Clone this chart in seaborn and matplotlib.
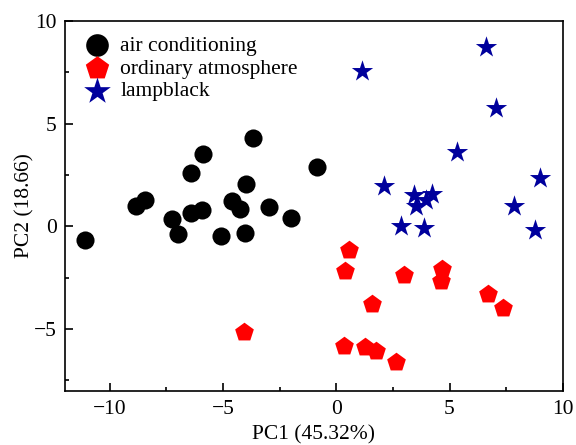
import pandas as pd
import matplotlib.pyplot as plt
import seaborn as sns
from matplotlib.ticker import MultipleLocator

# PCA scores
air_pc1 = [-11.08, -8.84, -8.44, -7.25, -7.0, -6.41, -6.41, -5.93, -5.87, -5.09,
           -4.59, -4.25, -4.05, -3.98, -3.69, -2.99, -2.0, -0.87]
air_pc2 = [-0.68, 1.0, 1.29, 0.38, -0.37, 2.60, 0.65, 0.81, 3.53, -0.45,
           1.24, 0.84, -0.32, 2.07, 4.31, 0.95, 0.40, 2.90]

ord_pc1 = [-4.09, 0.57, 0.38, 2.97, 4.69, 4.62, 6.68, 7.38, 1.57, 0.35, 1.28, 1.75, 2.63]
ord_pc2 = [-5.16, -1.16, -2.18, -2.39, -2.09, -2.66, -3.27, -3.95, -3.79, -5.81, -5.88, -6.05, -6.58]

lamp_pc1 = [1.12, 6.61, 7.07, 5.35, 9.0, 2.12, 3.44, 4.21, 3.96, 3.54, 7.86, 2.85, 3.88, 8.77]
lamp_pc2 = [7.58, 8.71, 5.78, 3.63, 2.37, 1.97, 1.53, 1.57, 1.29, 0.97, 0.97, 0.0, -0.08, -0.19]

groups = ["air conditioning", "ordinary atmosphere", "lampblack"]
colors = {"air conditioning": "black", "ordinary atmosphere": "#ff0000", "lampblack": "#00009c"}
markers = {"air conditioning": "o", "ordinary atmosphere": "p", "lampblack": "*"}
sizes = {"air conditioning": 170, "ordinary atmosphere": 200, "lampblack": 260}

df = pd.concat([
    pd.DataFrame({"PC1": air_pc1, "PC2": air_pc2, "group": groups[0]}),
    pd.DataFrame({"PC1": ord_pc1, "PC2": ord_pc2, "group": groups[1]}),
    pd.DataFrame({"PC1": lamp_pc1, "PC2": lamp_pc2, "group": groups[2]}),
])

sns.set_style("white")
plt.rcParams['font.family'] = ['Liberation Serif', 'DejaVu Serif']
plt.rcParams['font.size'] = 15.5
plt.rcParams['text.color'] = 'black'
plt.rcParams['axes.labelcolor'] = 'black'

fig = plt.figure(figsize=(5.76, 4.45), dpi=100)
ax = fig.add_axes([0.112, 0.122, 0.865, 0.831])

for g in groups:
    sns.scatterplot(data=df[df["group"] == g], x="PC1", y="PC2", color=colors[g],
                    marker=markers[g], s=sizes[g], linewidth=0, label=g, ax=ax)

ax.set_xlim(-12, 10)
ax.set_ylim(-8, 10)
ax.xaxis.set_major_locator(MultipleLocator(5))
ax.xaxis.set_minor_locator(MultipleLocator(2.5))
ax.yaxis.set_major_locator(MultipleLocator(5))
ax.yaxis.set_minor_locator(MultipleLocator(2.5))
ax.tick_params(which="both", direction="in", bottom=True, left=True, top=False, right=False,
               labelsize=15.5, colors="black", labelcolor="black", width=1.2)
ax.tick_params(which="major", length=6)
ax.tick_params(which="minor", length=3)
ax.tick_params(axis="x", which="major", pad=6.5)
ax.tick_params(axis="y", which="major", pad=5.5)
for sp in ax.spines.values():
    sp.set_color("black")
    sp.set_linewidth(1.2)

ax.set_xlabel("PC1 (45.32%)", fontsize=15.5, labelpad=5, color="black")
ax.set_ylabel("PC2 (18.66)", fontsize=15.5, labelpad=0, color="black")

leg = ax.legend(loc="upper left", frameon=False, fontsize=15.5, labelspacing=0.12,
                handletextpad=0.3, borderaxespad=0.3, handlelength=1.6,
                markerscale=1.25, bbox_to_anchor=(0.0, 1.0))
for t in leg.get_texts():
    t.set_color("black")

fig.savefig("out.png", dpi=100)
plt.close()
